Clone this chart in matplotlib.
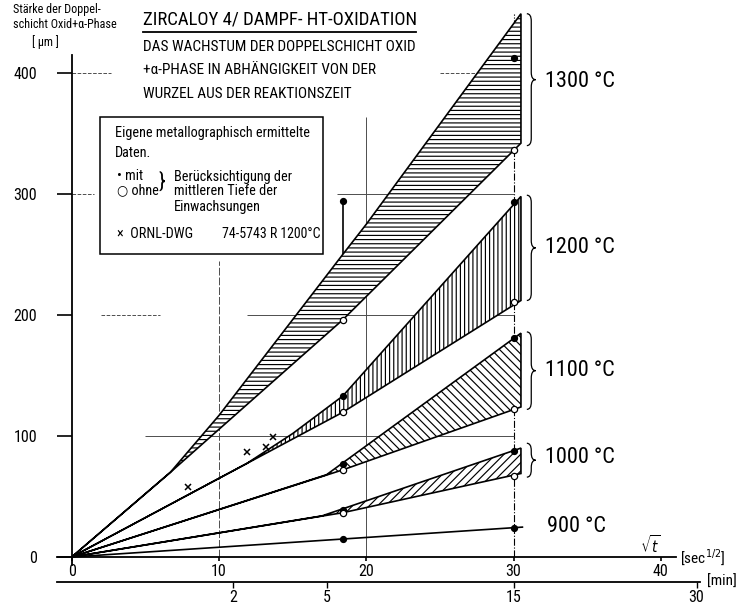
import numpy as np
import matplotlib.pyplot as plt
from matplotlib.path import Path
from matplotlib.patches import PathPatch, Rectangle

plt.rcParams['font.family'] = ['Roboto Condensed', 'DejaVu Sans']
plt.rcParams['font.stretch'] = 'condensed'
plt.rcParams['hatch.linewidth'] = 0.85
plt.rcParams['hatch.color'] = 'black'

# measuring times (sqrt(t) in sec^1/2)
t_pts = [18.4, 30.0]

# own data: with / without intrusions (µm)
mit_900 = [14.6, 24.2]
mit_1000 = [38.8, 87.9]
ohne_1000 = [36.6, 67.0]
mit_1100 = [76.6, 180.8]
ohne_1100 = [71.9, 122.0]
mit_1200 = [133.0, 293.6]
ohne_1200 = [119.6, 211.0]
mit_1300 = [294.0, 412.0]
ohne_1300 = [196.0, 336.0]

# ORNL-DWG 74-5743R 1200 C
ornl_x = [7.9, 11.9, 13.2, 13.7]
ornl_y = [57.6, 87.0, 91.2, 99.2]

# scatter bands (upper / lower boundary)
b1300_up_x = [0, 6.7, 10, 18.4, 20, 30.5]
b1300_up_y = [0, 70, 117, 250, 275, 449]
b1300_lo_x = [0, 6.7, 18.4, 30.5]
b1300_lo_y = [0, 70, 196, 342]
b1200_up_x = [0, 11.9, 15, 18.4, 30.5]
b1200_up_y = [0, 77.4, 102, 133, 298]
b1200_lo_x = [0, 18.4, 30.5]
b1200_lo_y = [0, 119.6, 212]
b1100_up_x = [0, 17.3, 30.5]
b1100_up_y = [0, 68, 185]
b1100_lo_x = [0, 18.4, 30.5]
b1100_lo_y = [0, 72, 124]
b1000_up_x = [0, 17, 30.5]
b1000_up_y = [0, 34, 90]
b1000_lo_x = [0, 18.4, 30.5]
b1000_lo_y = [0, 36.6, 69]
line900_x = [0, 30.6]
line900_y = [0, 24.7]

temps = ['1300 °C', '1200 °C', '1100 °C', '1000 °C', '900 °C']
temp_y = [393, 256, 154, 82.6, 24.8]
brace_lo = [340, 212, 122, 66]
brace_hi = [449, 299, 186, 94]

xticks = [0, 10, 20, 30, 40]
yticks = [0, 100, 200, 300, 400]
min_ticks = [2, 5, 15, 30]

fig = plt.figure(figsize=(7.4, 6.07), dpi=100)
ax = fig.add_axes([0.07699, 0.06244, 0.9156, 0.9369])
ax.set_xlim(-1, 45)
ax.set_ylim(-10, 460)

# partial grid lines
gc = '0.3'
ax.vlines(10, 0, 245, color=gc, lw=0.7, ls=(0, (8, 2)))
ax.vlines(20, 0, 364, color=gc, lw=0.7)
ax.vlines(30, 0, 449, color='black', lw=0.8, ls='-.')
ax.hlines(100, 5, 30, color=gc, lw=0.7)
ax.hlines(200, 11.9, 30, color=gc, lw=0.7)
ax.hlines(200, 2, 6, color=gc, lw=0.7, ls='--')
ax.hlines(300, 18, 30, color=gc, lw=0.7)
ax.hlines(300, 0, 1.5, color=gc, lw=0.7, ls='--')
ax.hlines(400, 0, 2.7, color=gc, lw=0.7, ls='--')
ax.hlines(400, 25, 30, color=gc, lw=0.7, ls='--')

def band(xu, yu, xl, yl, hatch):
    xs = np.concatenate([xu, xl[::-1]])
    ys = np.concatenate([yu, yl[::-1]])
    ax.fill(xs, ys, facecolor='white', edgecolor='black', lw=1.2, hatch=hatch, zorder=3)

band(b1300_up_x, b1300_up_y, b1300_lo_x, b1300_lo_y, '----')
band(b1200_up_x, b1200_up_y, b1200_lo_x, b1200_lo_y, '||||')
band(b1100_up_x, b1100_up_y, b1100_lo_x, b1100_lo_y, '\\\\\\\\')
band(b1000_up_x, b1000_up_y, b1000_lo_x, b1000_lo_y, '////')
ax.plot(line900_x, line900_y, color='black', lw=1.2, zorder=3)

# 1300 C "mit" point above the band
ax.vlines(t_pts[0], b1300_up_y[3], mit_1300[0], color='black', lw=1.2, zorder=3)

for m in [mit_900, mit_1000, mit_1100, mit_1200, mit_1300]:
    ax.plot(t_pts, m, 'o', ms=4.2, color='black', zorder=5)
for o in [ohne_1000, ohne_1100, ohne_1200, ohne_1300]:
    ax.plot(t_pts, o, 'o', ms=4.5, mfc='white', mec='black', mew=0.9, zorder=5)
ax.plot(ornl_x, ornl_y, 'x', ms=4, color='black', mew=1.1, zorder=5)

def brace(x, y0, y1, w=0.3, h=6):
    ym = (y0 + y1) / 2
    verts = [(x, y1), (x + w, y1), (x + w, y1 - h), (x + w, ym + h),
             (x + w, ym), (x + 2 * w, ym),
             (x + w, ym), (x + w, ym - h), (x + w, y0 + h),
             (x + w, y0), (x, y0)]
    codes = [Path.MOVETO, Path.CURVE3, Path.CURVE3, Path.LINETO,
             Path.CURVE3, Path.CURVE3,
             Path.CURVE3, Path.CURVE3, Path.LINETO,
             Path.CURVE3, Path.CURVE3]
    ax.add_patch(PathPatch(Path(verts, codes), fill=False, lw=0.9, clip_on=False))

for lo, hi in zip(brace_lo, brace_hi):
    brace(30.9, lo, hi)

for i, (lab, yy) in enumerate(zip(temps, temp_y)):
    ax.text(32.1 if i < 4 else 32.3, yy, lab, fontsize=16, va='center', ha='left')

# axes
for s in ['top', 'right']:
    ax.spines[s].set_visible(False)
ax.spines['left'].set_position(('data', 0))
ax.spines['bottom'].set_position(('data', 0))
ax.spines['left'].set_bounds(-7, 415)
ax.spines['bottom'].set_bounds(-1, 41)
ax.spines['left'].set_linewidth(1.3)
ax.spines['bottom'].set_linewidth(1.3)
ax.set_xticks(xticks)
ax.set_yticks(yticks)
ax.tick_params(axis='y', direction='out', length=11, width=1.2, pad=14, labelsize=11.5)
ax.tick_params(axis='x', direction='out', length=3, width=1.2, pad=2, labelsize=11.5)

ax.text(39.3, 10, r'$\sqrt{t}$', fontsize=11, ha='center', va='center')
ax.text(41.3, 0, r'[sec$^{1/2}$]', fontsize=11, ha='left', va='center')

def fwd(x):
    x = np.asarray(x, dtype=float)
    return np.sign(x) * x ** 2 / 60.0

def inv(m):
    m = np.asarray(m, dtype=float)
    return np.sign(m) * np.sqrt(np.abs(m) * 60.0)

sec = ax.secondary_xaxis(-0.0221, functions=(fwd, inv))
sec.set_xticks(min_ticks)
sec.set_xticklabels([str(v) for v in min_ticks])
sec.spines['bottom'].set_bounds(-1 / 60, 30.3)
sec.spines['bottom'].set_linewidth(1.3)
sec.tick_params(direction='out', length=4, width=1.0, pad=2, labelsize=11.5)
ax.text(43.1, -20.4, '[min]', fontsize=11, ha='left', va='center')

# titles
def px(x, y):
    return x / 740, 1 - y / 607

fig.text(*px(13, 10), 'Stärke der Doppel-', fontsize=8.7, va='center')
fig.text(*px(13, 25), 'schicht Oxid+α-Phase', fontsize=8.7, va='center')
fig.text(*px(45, 42), '[ µm ]', fontsize=8.7, va='center', ha='center')

fig.text(*px(143, 20), 'ZIRCALOY 4/ DAMPF- HT-OXIDATION', fontsize=13.5, va='center')
fig.add_artist(plt.Line2D([143 / 740, 416 / 740], [1 - 32 / 607, 1 - 32 / 607], color='black', lw=1.3))
fig.text(*px(143, 47), 'DAS WACHSTUM DER DOPPELSCHICHT OXID', fontsize=11, va='center')
fig.text(*px(143, 70), '+α-PHASE IN ABHÄNGIGKEIT VON DER', fontsize=11, va='center')
fig.text(*px(143, 94), 'WURZEL AUS DER REAKTIONSZEIT', fontsize=11, va='center')

# legend box
fig.add_artist(Rectangle((100 / 740, 1 - 254 / 607), 223 / 740, 137 / 607,
                         transform=fig.transFigure, facecolor='white', edgecolor='black', lw=1.1, zorder=6))
lk = dict(fontsize=10.3, va='center', zorder=7)
fig.text(*px(115, 133), 'Eigene metallographisch ermittelte', **lk)
fig.text(*px(115, 153), 'Daten.', **lk)
fig.text(*px(117, 176), '• mit', **lk)
fig.text(*px(117, 190), '○ ohne', **lk)
fig.text(*px(159, 183), '}', fontsize=15, va='center', zorder=7)
fig.text(*px(174, 177), 'Berücksichtigung der', **lk)
fig.text(*px(174, 191), 'mittleren Tiefe der', **lk)
fig.text(*px(174, 207), 'Einwachsungen', **lk)
fig.text(*px(117, 234), '×  ORNL-DWG', **lk)
fig.text(*px(222, 234), '74-5743 R 1200°C', fontsize=10, va='center', zorder=7)

fig.savefig('out.png', dpi=100)
